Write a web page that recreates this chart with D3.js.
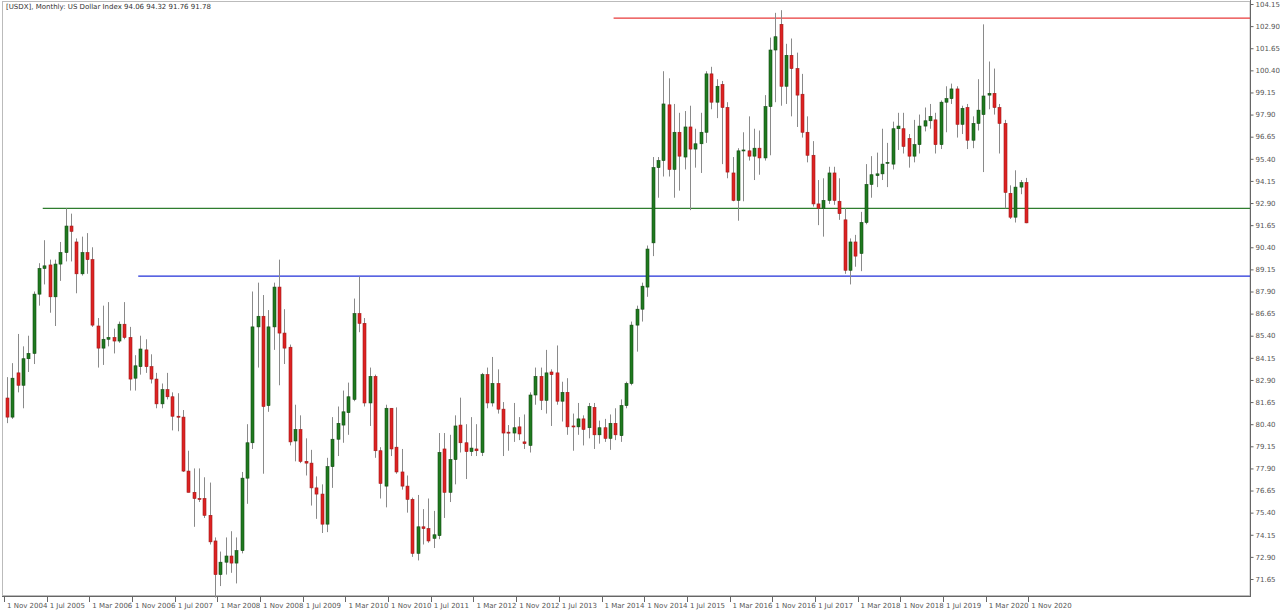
<!DOCTYPE html>
<html>
<head>
<meta charset="utf-8">
<script src="https://cdn.jsdelivr.net/npm/d3@7"></script>
<style>
  body { margin: 0; background: #fff; }
  svg text { font-family: "DejaVu Sans", sans-serif; }
</style>
</head>
<body>
<div id="plot"></div>
<script>
// Monthly OHLC, first bar 1 Nov 2004
var opens = [81.88,80.8,83.3,82.6,84.1,84.4,87.75,89.2,89.4,87.6,89.45,90.1,91.6,90.7,88.9,90.1,89.7,85.95,84.7,85.2,
  85.3,85.1,86.05,85.3,83.0,83.65,84.6,83.65,82.95,81.55,82.35,81.95,80.85,80.8,77.75,76.55,76.2,76.2,75.25,73.8,
  71.9,72.6,72.95,72.55,73.25,77.35,79.35,85.9,86.5,81.45,85.9,88.15,85.55,84.75,79.45,80.1,78.3,78.2,76.8,76.45,
  74.75,78.0,79.55,80.35,81.05,81.8,86.65,86.1,81.6,83.1,78.9,76.9,81.3,79.1,77.7,76.9,76.15,73.1,74.6,74.5,
  73.95,74.1,79.0,76.55,78.4,80.35,79.35,78.85,79.0,78.8,83.2,81.6,82.7,81.25,79.95,79.9,80.25,79.4,79.2,82.05,
  83.1,81.75,83.35,83.3,81.7,82.2,80.3,80.25,80.7,80.2,81.35,79.8,80.2,79.6,80.45,79.75,81.45,82.7,86.0,86.9,
  88.15,90.65,94.9,95.3,98.45,94.8,96.9,95.5,97.2,95.95,96.25,96.9,100.2,98.6,99.6,98.3,94.6,93.05,95.85,95.85,
  95.55,96.0,95.45,98.35,101.55,103.0,99.5,101.25,100.5,99.05,96.9,95.6,92.85,92.6,93.05,94.6,93.0,91.95,89.1,90.7,
  90.05,91.8,93.95,94.45,94.55,95.2,95.1,97.1,97.1,96.55,95.55,96.2,97.25,97.55,97.6,96.2,98.6,98.8,99.35,97.35,
  98.3,96.45,97.4,97.9,99.0,99.1,98.3,97.4,93.45,92.1,93.8,94.06];
var highs = [83.06,83.85,85.5,84.8,85.4,87.9,89.5,90.8,89.7,89.7,90.7,92.6,92.3,90.9,91.0,91.2,90.4,86.4,87.1,87.3,
  85.8,86.2,87.3,85.9,84.3,85.4,85.2,84.35,83.3,82.7,83.3,82.2,82.15,81.2,78.9,77.9,77.9,77.4,77.1,74.0,
  73.2,74.0,74.35,74.0,77.7,80.4,87.9,88.4,87.7,86.85,88.4,89.7,86.9,84.9,81.5,80.9,79.6,78.95,77.45,77.0,
  78.5,80.8,81.4,82.3,82.75,87.5,88.75,86.4,83.6,83.2,79.1,81.5,81.3,81.35,79.0,77.5,76.25,76.4,75.6,76.2,
  75.5,79.9,79.9,79.8,80.9,81.9,80.4,80.8,80.4,83.3,83.6,84.2,83.5,81.65,80.35,81.6,80.8,80.95,82.2,83.6,
  83.6,84.6,83.5,84.85,82.8,83.0,81.0,81.6,80.9,81.6,81.6,80.6,80.7,80.95,81.3,81.8,82.8,86.2,87.1,88.4,
  90.5,95.5,95.5,100.35,99.95,98.5,98.0,98.1,98.4,97.1,98.0,100.35,100.6,99.9,99.8,98.6,95.5,96.0,96.9,97.8,
  97.1,97.0,99.0,102.25,103.65,103.8,101.9,102.2,101.4,100.2,97.8,96.4,94.2,94.3,94.95,94.95,94.3,92.6,90.9,91.1,
  92.4,95.1,95.55,95.75,97.1,96.3,97.5,98.0,98.0,96.8,97.6,97.9,98.3,98.5,98.0,98.7,99.5,99.65,99.5,98.4,
  98.5,97.8,99.9,103.0,100.9,100.5,98.5,97.6,93.9,94.75,94.2,94.32];
var lows = [80.46,80.7,82.2,81.3,83.35,83.8,87.1,88.3,86.7,85.95,88.5,89.6,89.6,87.8,88.8,88.9,85.9,83.6,83.75,84.8,
  84.4,85.0,85.2,82.3,82.3,83.2,83.3,82.7,81.3,81.3,81.8,80.05,80.0,77.7,76.55,74.6,76.0,75.1,73.6,70.6,
  71.25,71.9,72.0,71.4,73.1,75.9,79.0,83.6,77.6,81.1,84.6,82.6,83.8,79.2,78.3,78.2,77.5,75.8,75.05,74.25,
  74.3,76.8,78.6,79.35,79.8,81.7,85.6,81.4,80.3,78.5,76.2,75.7,78.6,77.6,76.7,75.4,72.9,72.7,73.6,73.7,
  73.4,73.9,75.1,76.0,77.0,78.8,77.3,78.6,78.6,78.6,81.3,81.4,81.0,78.6,78.9,79.4,79.5,79.0,78.8,81.5,
  81.2,81.0,80.3,81.5,80.55,79.8,78.9,79.8,79.2,79.6,79.0,79.3,79.4,78.95,79.5,79.4,81.3,82.6,84.5,86.2,
  87.6,89.9,93.2,94.4,94.4,93.2,93.6,94.8,92.5,94.9,94.6,96.3,98.2,97.7,95.1,94.3,93.0,91.9,93.0,95.3,
  94.2,94.5,95.3,95.6,98.6,98.4,98.5,97.8,97.2,96.6,95.2,92.7,91.65,91.0,92.85,92.8,91.95,88.9,88.3,89.3,
  89.05,91.7,93.2,93.8,94.2,93.8,94.8,95.9,95.7,94.9,95.2,95.7,96.95,97.1,95.7,95.95,96.9,98.5,96.6,96.8,
  95.95,96.0,97.0,94.65,98.2,97.9,95.7,92.6,92.0,91.8,93.4,91.76];
var closes = [80.8,83.0,82.6,84.1,84.4,87.75,89.2,89.35,87.6,89.45,90.1,91.6,91.3,88.9,90.1,89.7,86.0,84.7,85.2,85.3,
  85.1,86.05,85.3,82.95,83.7,84.65,83.65,82.95,81.55,82.35,81.95,80.85,80.8,77.75,76.55,76.2,76.15,75.25,73.75,71.9,
  72.6,72.95,72.55,73.25,77.35,79.35,85.9,86.5,81.4,85.9,88.15,85.55,84.7,79.4,80.1,78.3,78.2,76.8,76.45,74.75,
  78.0,79.55,80.45,81.1,81.95,86.65,86.1,81.6,83.1,78.9,77.05,81.3,79.0,77.7,76.9,76.15,73.1,74.6,74.5,73.8,
  74.15,78.8,76.55,78.4,80.3,79.35,78.85,79.05,78.9,83.2,81.6,82.7,81.25,79.9,79.9,80.2,79.85,79.3,82.05,83.1,
  81.75,83.3,83.2,81.7,82.2,80.25,80.25,80.7,80.1,81.4,79.8,80.2,79.6,80.45,79.8,81.45,82.7,86.0,86.9,88.2,
  90.3,94.9,95.3,98.5,94.8,96.9,95.55,97.2,95.95,96.25,96.9,100.2,98.6,99.5,98.3,94.65,93.05,95.85,95.9,95.55,
  96.0,95.45,98.35,101.55,102.3,99.5,101.25,100.5,99.0,96.9,95.6,92.85,92.6,93.05,94.6,93.05,92.3,89.1,90.7,89.9,
  91.8,93.95,94.5,94.55,95.1,95.2,97.1,97.25,96.1,95.55,96.2,97.25,97.55,97.8,96.2,98.6,98.8,99.35,97.35,98.25,
  96.45,97.4,98.15,98.95,99.1,98.3,97.4,93.5,92.1,93.8,94.05,91.78];

var yTicks = d3.range(0, 27).map(function(i) { return +(71.65 + i * 1.25).toFixed(2); });
// horizontal levels: price and the bar where they start
var levelPrices = [103.35, 92.6, 88.77];
var levelStarts = [113.7, 6.7, 24.6];
var levelColors = ["#e83a3a", "#2e7d2e", "#2230d8"];

var W = 1280, H = 614;
var svg = d3.select("#plot").append("svg").attr("width", W).attr("height", H);

var x = d3.scaleLinear().domain([0, 192]).range([7, 7 + 192 * 5.335]);
var y = d3.scaleLinear().domain([71.65, 104.15]).range([579, 4]);

// frame
svg.append("rect").attr("x", 2.5).attr("y", 1.5).attr("width", 1247.5).attr("height", 594)
  .attr("fill", "none").attr("stroke", "#bbb");
svg.append("line").attr("x1", 1250.5).attr("x2", 1250.5).attr("y1", 0).attr("y2", 596).attr("stroke", "#666");
svg.append("line").attr("x1", 2).attr("x2", 1251).attr("y1", 596.5).attr("y2", 596.5).attr("stroke", "#666");

// y axis
var yAxis = d3.axisRight(y).tickValues(yTicks).tickSize(3).tickFormat(d3.format(".2f"));
var gy = svg.append("g").attr("transform", "translate(1250.5,0)").call(yAxis);
gy.select(".domain").remove();
gy.selectAll("line").attr("stroke", "#666");
gy.selectAll("text").attr("fill", "#555").style("font-size", "7px").attr("x", 5);

// x labels
var start = new Date(2004, 10, 1);
var fmt = d3.timeFormat("%b %Y");
var xIdx = d3.range(0, 193, 8);
var gx = svg.append("g");
gx.selectAll("line").data(xIdx).enter().append("line")
  .attr("x1", function(d) { return Math.round(x(d)) - 2.5; })
  .attr("x2", function(d) { return Math.round(x(d)) - 2.5; })
  .attr("y1", 597).attr("y2", 602).attr("stroke", "#666");
gx.selectAll("text").data(xIdx).enter().append("text")
  .attr("x", function(d) { return x(d); })
  .attr("y", 608).attr("fill", "#555").style("font-size", "7px")
  .text(function(d) { return "1 " + fmt(d3.timeMonth.offset(start, d)); });

// levels
svg.selectAll(".level").data(levelPrices).enter().append("line")
  .attr("class", "level")
  .attr("x1", function(d, i) { return x(levelStarts[i]); })
  .attr("x2", 1250)
  .attr("y1", function(d) { return y(d); })
  .attr("y2", function(d) { return y(d); })
  .attr("stroke", function(d, i) { return levelColors[i]; })
  .attr("stroke-width", 1.3);

// candles
var bars = d3.range(opens.length);
svg.selectAll(".wick").data(bars).enter().append("line")
  .attr("x1", function(i) { return Math.round(x(i)) + 0.5; })
  .attr("x2", function(i) { return Math.round(x(i)) + 0.5; })
  .attr("y1", function(i) { return y(highs[i]); })
  .attr("y2", function(i) { return y(lows[i]); })
  .attr("stroke", "#8a8a8a");
svg.selectAll(".body").data(bars).enter().append("rect")
  .attr("x", function(i) { return Math.round(x(i)) - 1; })
  .attr("width", 3)
  .attr("y", function(i) { return y(Math.max(opens[i], closes[i])); })
  .attr("height", function(i) { return Math.max(1, Math.abs(y(opens[i]) - y(closes[i]))); })
  .attr("fill", function(i) { return closes[i] >= opens[i] ? "#1f7a1f" : "#dd2222"; })
  .attr("stroke", function(i) { return closes[i] >= opens[i] ? "#124a12" : "#a01818"; })
  .attr("stroke-width", 0.6);

// header
svg.append("text").attr("x", 6).attr("y", 9).attr("fill", "#333").style("font-size", "7px")
  .text("[USDX], Monthly:  US Dollar Index  94.06 94.32 91.76 91.78");
</script>
</body>
</html>
